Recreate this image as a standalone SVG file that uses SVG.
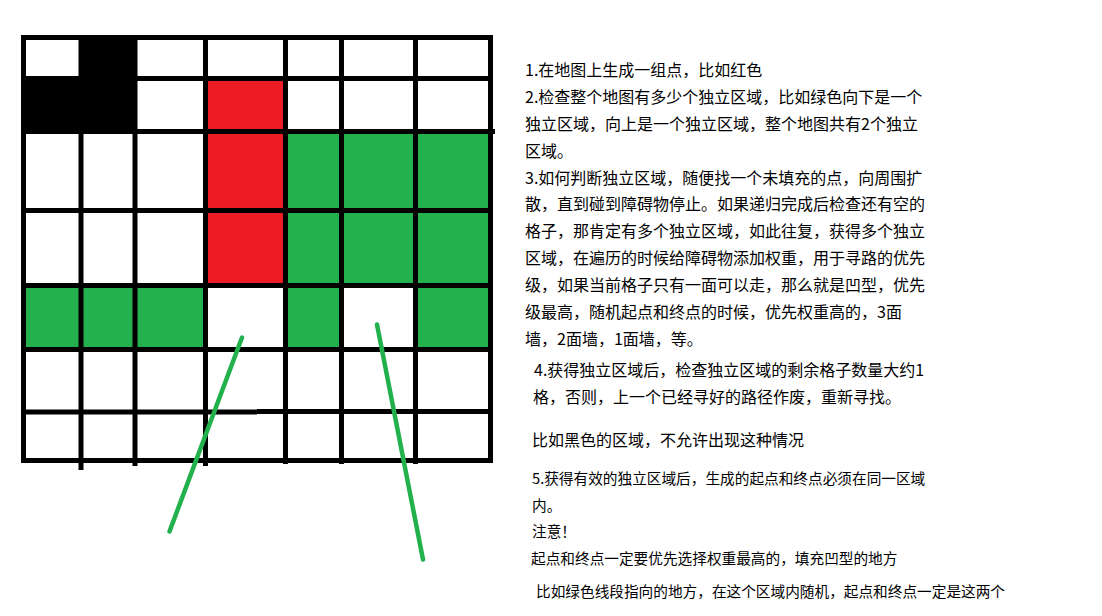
<svg xmlns="http://www.w3.org/2000/svg" width="1102" height="616" viewBox="0 0 1102 616">
  <style>
    .blk { fill: #000000; }
    .red { fill: #ED1C24; }
    .grn { fill: #22B14C; }
    .grid line { stroke: #000000; stroke-width: 5; stroke-linecap: butt; }
    .ptr { stroke: #22B14C; stroke-width: 4.5; stroke-linecap: round; fill: none; }
    .t16 { font-family: "Noto Sans CJK SC", "Liberation Sans", sans-serif; font-size: 16px; fill: #000000; }
    .t15 { font-family: "Noto Sans CJK SC", "Liberation Sans", sans-serif; font-size: 14.67px; fill: #000000; }
  </style>
  <rect x="0" y="0" width="1102" height="616" fill="#ffffff"/>

  <g id="cells">
    <g id="black-area">
      <rect class="blk" x="81" y="37.5" width="54" height="41"/>
      <rect class="blk" x="23.5" y="78.5" width="111.5" height="53"/>
    </g>
    <g id="red-area">
      <rect class="red" x="205.5" y="78.5" width="80" height="207"/>
    </g>
    <g id="green-area">
      <rect class="grn" x="285.5" y="131.5" width="205" height="154"/>
      <rect class="grn" x="23.5" y="285.5" width="182" height="64"/>
      <rect class="grn" x="285.5" y="285.5" width="56" height="64"/>
      <rect class="grn" x="415.5" y="285.5" width="75" height="64"/>
    </g>
  </g>

  <g id="grid" class="grid">
    <line x1="21" y1="37.5" x2="493" y2="37.5"/>
    <line x1="21" y1="78.5" x2="493" y2="78.5"/>
    <line x1="21" y1="131.5" x2="495" y2="131.5"/>
    <line x1="21" y1="210.5" x2="493" y2="210.5"/>
    <line x1="21" y1="285.5" x2="493" y2="285.5"/>
    <line x1="21" y1="349.5" x2="493" y2="349.5"/>
    <line x1="21" y1="412" x2="257" y2="412"/>
    <line x1="257" y1="411.5" x2="493" y2="411.5"/>
    <line x1="21" y1="460.5" x2="493" y2="460.5"/>
    <line x1="23.5" y1="35" x2="23.5" y2="463"/>
    <line x1="81" y1="35" x2="81" y2="470"/>
    <line x1="135" y1="35" x2="135" y2="466"/>
    <line x1="205.5" y1="35" x2="205.5" y2="466"/>
    <line x1="285.5" y1="35" x2="285.5" y2="464"/>
    <line x1="341.5" y1="35" x2="341.5" y2="464"/>
    <line x1="415.5" y1="35" x2="415.5" y2="464"/>
    <line x1="490.5" y1="35" x2="490.5" y2="463"/>
  </g>

  <g id="connectors">
    <line class="ptr" x1="242" y1="337.5" x2="169.5" y2="531.5"/>
    <line class="ptr" x1="377" y1="324.5" x2="423" y2="559.5"/>
  </g>

  <g id="notes">
    <text class="t16" x="525" y="76">1.在地图上生成一组点，比如红色</text>
    <text class="t16" x="525" y="103">2.检查整个地图有多少个独立区域，比如绿色向下是一个</text>
    <text class="t16" x="525" y="130">独立区域，向上是一个独立区域，整个地图共有2个独立</text>
    <text class="t16" x="525" y="157">区域。</text>
    <text class="t16" x="525" y="184">3.如何判断独立区域，随便找一个未填充的点，向周围扩</text>
    <text class="t16" x="525" y="210">散，直到碰到障碍物停止。如果递归完成后检查还有空的</text>
    <text class="t16" x="525" y="237">格子，那肯定有多个独立区域，如此往复，获得多个独立</text>
    <text class="t16" x="525" y="264">区域，在遍历的时候给障碍物添加权重，用于寻路的优先</text>
    <text class="t16" x="525" y="291">级，如果当前格子只有一面可以走，那么就是凹型，优先</text>
    <text class="t16" x="525" y="318">级最高，随机起点和终点的时候，优先权重高的，3面</text>
    <text class="t16" x="525" y="345">墙，2面墙，1面墙，等。</text>
    <text class="t16" x="534" y="376">4.获得独立区域后，检查独立区域的剩余格子数量大约1</text>
    <text class="t16" x="533" y="403">格，否则，上一个已经寻好的路径作废，重新寻找。</text>
    <text class="t16" x="532" y="446">比如黑色的区域，不允许出现这种情况</text>
    <text class="t15" x="532" y="484">5.获得有效的独立区域后，生成的起点和终点必须在同一区域</text>
    <text class="t15" x="532" y="511">内。</text>
    <text class="t15" x="532" y="537">注意！</text>
    <text class="t15" x="531" y="564">起点和终点一定要优先选择权重最高的，填充凹型的地方</text>
    <text class="t15" x="536" y="597">比如绿色线段指向的地方，在这个区域内随机，起点和终点一定是这两个</text>
  </g>
</svg>
